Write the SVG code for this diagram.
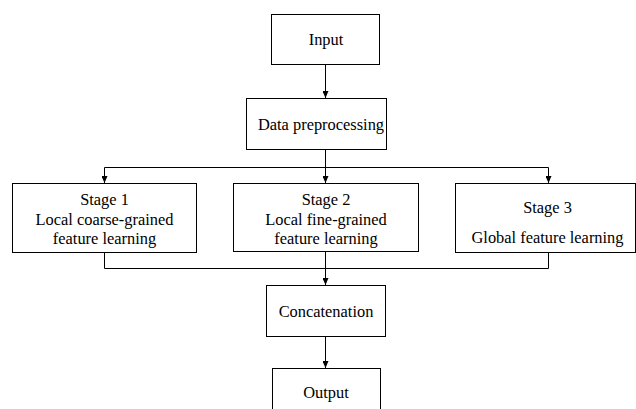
<svg xmlns="http://www.w3.org/2000/svg" width="636" height="409" viewBox="0 0 636 409">
  <defs>
    <marker id="arrow" viewBox="0 0 7 6" refX="7" refY="3" markerWidth="7" markerHeight="6" markerUnits="userSpaceOnUse" orient="auto">
      <path d="M0,0 L7,3 L0,6 Z" fill="#000"/>
    </marker>
    <style>
      .box { fill: #fff; stroke: #000; stroke-width: 1; }
      .lbl { font-size: 16.4px; fill: #000; text-anchor: middle; }
      .wire { fill: none; stroke: #000; stroke-width: 1; }
    </style>
  </defs>
  <rect width="636" height="409" fill="#fff"/>

  <g id="connectors">
    <path class="wire" d="M325.5,64 V98" marker-end="url(#arrow)"/>
    <path class="wire" d="M325.5,149 V183"  marker-end="url(#arrow)"/>
    <path class="wire" d="M104.5,167.5 H548.5"/>
    <path class="wire" d="M104.5,167.5 V183" marker-end="url(#arrow)"/>
    <path class="wire" d="M548.5,167.5 V183" marker-end="url(#arrow)"/>
    <path class="wire" d="M104.5,252 V268.5 H548.5 V252"/>
    <path class="wire" d="M325.5,252 V285" marker-end="url(#arrow)"/>
    <path class="wire" d="M325.5,336 V368" marker-end="url(#arrow)"/>
  </g>

  <g font-family="Liberation Serif, Times New Roman, serif">
    <g id="input">
      <rect class="box" x="271.5" y="14.5" width="108" height="50"/>
      <text class="lbl" x="326" y="45">Input</text>
    </g>

    <g id="preprocessing">
      <rect class="box" x="246.5" y="98.5" width="140" height="51"/>
      <text class="lbl" x="321" y="130">Data preprocessing</text>
    </g>

    <g id="stage1">
      <rect class="box" x="12.5" y="183.5" width="184" height="69"/>
      <text class="lbl" x="104.5" y="205">Stage 1</text>
      <text class="lbl" x="104.5" y="225">Local coarse-grained</text>
      <text class="lbl" x="104.5" y="244">feature learning</text>
    </g>

    <g id="stage2">
      <rect class="box" x="233.5" y="183.5" width="185" height="68"/>
      <text class="lbl" x="326" y="205">Stage 2</text>
      <text class="lbl" x="326" y="225">Local fine-grained</text>
      <text class="lbl" x="326" y="244">feature learning</text>
    </g>

    <g id="stage3">
      <rect class="box" x="455.5" y="183.5" width="180" height="69"/>
      <text class="lbl" x="547.5" y="213">Stage 3</text>
      <text class="lbl" x="547.5" y="243">Global feature learning</text>
    </g>

    <g id="concatenation">
      <rect class="box" x="266.5" y="285.5" width="119" height="51"/>
      <text class="lbl" x="326" y="317">Concatenation</text>
    </g>

    <g id="output">
      <rect class="box" x="272.5" y="368.5" width="108" height="50"/>
      <text class="lbl" x="326" y="398">Output</text>
    </g>
  </g>
</svg>
